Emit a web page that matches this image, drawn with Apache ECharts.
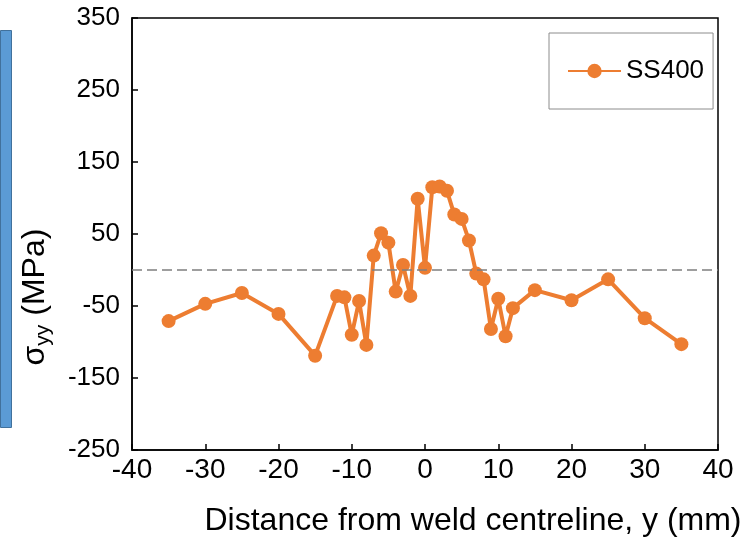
<!DOCTYPE html>
<html>
<head>
<meta charset="utf-8">
<script src="https://cdn.jsdelivr.net/npm/echarts@6/dist/echarts.min.js"></script>
<style>html,body{margin:0;padding:0;background:#fff;}#c{width:755px;height:544px;}</style>
</head>
<body>
<div id="c"></div>
<script>
var seriesName = 'SS400';
var xValues = [-35,-30,-25,-20,-15,-12,-11,-10,-9,-8,-7,-6,-5,-4,-3,-2,-1,0,1,2,3,4,5,6,7,8,9,10,11,12,15,20,25,30,35];
var yValues = [-71,-47,-32,-61,-119,-36,-38,-90,-43,-104,20,51,38,-30,7,-36,99,3,115,116,110,77,71,41,-5,-13,-82,-40,-92,-53,-28,-42,-13,-67,-103];
var xTicks = {min:-40, max:40, interval:10};
var yTicks = {min:-250, max:350, interval:100};
var refLine = 0;

var pts = xValues.map(function(x,i){return [x, yValues[i]];});
var FONT = '"Liberation Sans", Arial, sans-serif';
var chart = echarts.init(document.getElementById('c'), null, {renderer:'canvas'});
chart.setOption({
  animation:false,
  backgroundColor:'#fff',
  textStyle:{fontFamily:FONT},
  grid:{left:132, right:37, top:18, bottom:94, show:true, borderColor:'#000', borderWidth:1.5, backgroundColor:'transparent'},
  legend:{
    left:549, top:33, padding:[25,9,25,18],
    borderColor:'#8c8c8c', borderWidth:1, backgroundColor:'#fff',
    itemWidth:53, itemHeight:18, itemGap:5,
    textStyle:{fontFamily:FONT, fontSize:26, color:'#000'},
    data:[seriesName]
  },
  graphic:[{type:'rect', left:0, top:30, shape:{width:11, height:397}, style:{fill:'#5B9BD5', stroke:'#41719C', lineWidth:1}}],
  xAxis:{
    type:'value', min:xTicks.min, max:xTicks.max, interval:xTicks.interval,
    name:'Distance from weld centreline, y (mm)', nameLocation:'middle', nameGap:55,
    nameTextStyle:{fontFamily:FONT, fontSize:32, color:'#000', padding:[0,0,0,96]},
    axisLine:{onZero:false, lineStyle:{color:'#000', width:1.5}},
    axisTick:{inside:true, length:6, lineStyle:{color:'#000', width:1.5}},
    axisLabel:{fontFamily:FONT, fontSize:28, color:'#000', margin:6},
    splitLine:{show:false}
  },
  yAxis:{
    type:'value', min:yTicks.min, max:yTicks.max, interval:yTicks.interval,
    name:'{a|σ}{b|yy}{a| (MPa)}', nameLocation:'middle', nameGap:78,
    nameTextStyle:{fontFamily:FONT, color:'#000', padding:[0,126,0,0], rich:{a:{fontFamily:FONT, fontSize:32, color:'#000'}, b:{fontFamily:FONT, fontSize:21, color:'#000', padding:[16,0,0,0]}}},
    axisLine:{onZero:false, lineStyle:{color:'#000', width:1.5}},
    axisTick:{inside:true, length:6, lineStyle:{color:'#000', width:1.5}},
    axisLabel:{fontFamily:FONT, fontSize:26, color:'#000', margin:12},
    splitLine:{show:false}
  },
  series:[{
    name:seriesName, type:'line', data:pts,
    symbol:'circle', symbolSize:14,
    lineStyle:{color:'#ED7D31', width:4},
    itemStyle:{color:'#ED7D31'},
    markLine:{silent:true, symbol:['none','none'], label:{show:false},
      lineStyle:{color:'#7f7f7f', type:[10,5], width:1.5},
      data:[{yAxis:refLine}]}
  }]
});
</script>
</body>
</html>
